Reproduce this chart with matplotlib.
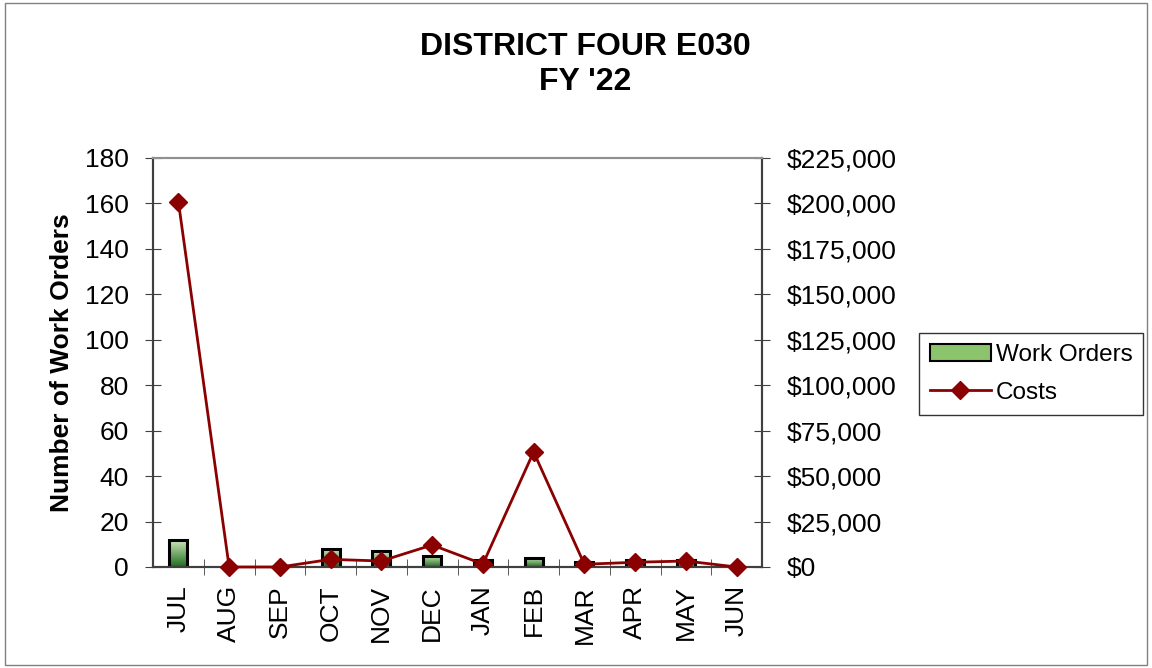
import numpy as np
import matplotlib.pyplot as plt
from matplotlib.patches import Rectangle
from matplotlib.colors import LinearSegmentedColormap
from matplotlib.ticker import FuncFormatter, FixedLocator

plt.rcParams['font.family'] = ['Liberation Sans', 'DejaVu Sans']

months = ["JUL", "AUG", "SEP", "OCT", "NOV", "DEC", "JAN", "FEB", "MAR", "APR", "MAY", "JUN"]
work_orders = [12, 0, 0, 8, 7, 5, 3, 4, 2, 3, 3, 0]
costs = [201000, 0, 0, 4200, 3300, 12100, 1600, 63300, 1500, 2600, 3300, 0]

fig = plt.figure(figsize=(11.52, 6.68), dpi=100)
fig.patches.append(Rectangle((0.004, 0.004), 0.992, 0.992, transform=fig.transFigure,
                             fill=False, edgecolor='#808080', lw=1))

ax = fig.add_axes([153/1152, 1 - 567/668, (762-153)/1152, (567-158)/668])
ax2 = ax.twinx()

x = np.arange(len(months))

# bars with a light-to-dark green gradient
green = LinearSegmentedColormap.from_list("g", ["#1e6e1e", "#d3e9bd"])
grad = np.linspace(0, 1, 100).reshape(-1, 1)
bw = 0.35
for xi, v in zip(x, work_orders):
    if v <= 0:
        continue
    im = ax.imshow(grad, cmap=green, origin='lower', aspect='auto',
                   extent=[xi - bw/2, xi + bw/2, 0, v], zorder=2)
    r = Rectangle((xi - bw/2, 0), bw, v, fill=False, edgecolor='black', lw=2.2, zorder=3)
    ax.add_patch(r)
    im.set_clip_path(r)
ax.set_xlim(-0.5, len(months) - 0.5)
ax.set_ylim(0, 180)
ax2.set_ylim(0, 225000)

ax2.plot(x, costs, color='#8b0000', lw=2, marker='D', ms=9, zorder=4, clip_on=False)

ax.set_xticks(x)
ax.set_xticklabels(months, rotation=90, fontsize=19)
ax.xaxis.set_minor_locator(FixedLocator(np.arange(0.5, len(months) - 0.5, 1)))
ax.tick_params(axis='x', which='major', length=0, pad=13)
ax.tick_params(axis='x', which='minor', direction='inout', length=11, color='#404040')
ax.set_yticks(np.arange(0, 181, 20))
ax.tick_params(axis='y', labelsize=19, direction='inout', length=11, color='#404040', pad=12)
ax.set_ylabel("Number of Work Orders", fontsize=19, fontweight='bold', labelpad=8)

ax2.set_yticks(np.arange(0, 225001, 25000))
ax2.yaxis.set_major_formatter(FuncFormatter(lambda v, p: f"${v:,.0f}"))
ax2.tick_params(axis='y', labelsize=19, direction='inout', length=11, color='#404040', pad=12)

for a in (ax, ax2):
    for s in a.spines.values():
        s.set_color('#404040')
        s.set_linewidth(1.5)
    a.spines['top'].set_color('#909090')

fig.text(585/1152, 1 - 47/668, "DISTRICT FOUR E030", ha='center', va='center',
         fontsize=23, fontweight='bold')
fig.text(585/1152, 1 - 82/668, "FY '22", ha='center', va='center',
         fontsize=23, fontweight='bold')

h1 = Rectangle((0, 0), 1, 1, facecolor='#8cc46e', edgecolor='black', lw=1.5)
h2, = ax2.plot([], [], color='#8b0000', lw=2, marker='D', ms=9)
fig.legend([h1, h2], ["Work Orders", "Costs"], loc='upper left',
           bbox_to_anchor=(919/1152, 1 - 333/668), fontsize=17.5, frameon=True,
           fancybox=False, edgecolor='black', handlelength=2.5, handletextpad=0.2,
           borderpad=0.45, labelspacing=0.65, borderaxespad=0)

fig.savefig("out.png", dpi=100)
